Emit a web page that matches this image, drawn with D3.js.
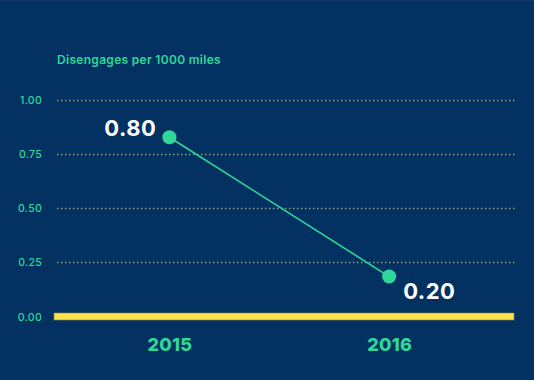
<!DOCTYPE html>
<html>
<head>
<meta charset="utf-8">
<script src="https://cdn.jsdelivr.net/npm/d3@7"></script>
<style>
  html, body { margin: 0; padding: 0; background: #033262; }
  svg { display: block; }
  text { font-family: Inter, "Open Sans", sans-serif; }
</style>
</head>
<body>
<script>
const years = ["2015", "2016"];
const values = [0.826, 0.184];
const valueLabels = ["0.80", "0.20"];
const yTicks = [0, 0.25, 0.5, 0.75, 1.0];
const title = "Disengages per 1000 miles";

const W = 534, H = 380;
const green = "#2ed89b";
const yellow = "#fde24b";
const FONT = "Inter, 'Open Sans', sans-serif";

const svg = d3.select("body").append("svg").attr("width", W).attr("height", H);
svg.append("rect").attr("width", W).attr("height", H).attr("fill", "#033262");
svg.append("rect").attr("width", W).attr("height", 1).attr("fill", "#15396b");

const y = d3.scaleLinear().domain([0, 1]).range([316.5, 99.5]);
const x = d3.scalePoint().domain(years).range([59.5, 499]).padding(0.5);

// title
svg.append("text").attr("x", 57).attr("y", 63.5)
  .attr("fill", green).attr("font-size", 12).attr("font-weight", 600)
  .attr("letter-spacing", 0.3)
  .text(title);

// y axis labels
const yAxis = d3.axisLeft(y).tickValues(yTicks).tickFormat(d3.format(".2f")).tickSize(0).tickPadding(0);
const gy = svg.append("g").attr("transform", "translate(42,0)").call(yAxis);
gy.select(".domain").remove();
gy.selectAll("text").attr("fill", green).attr("font-size", 10.5).attr("font-weight", 500)
  .attr("letter-spacing", 0.3)
  .attr("font-family", FONT).attr("dy", "0.35em");

// gridlines
svg.append("g").selectAll("line").data(yTicks.filter(d => d > 0)).join("line")
  .attr("x1", 57).attr("x2", 516)
  .attr("y1", d => Math.round(y(d)) + 0.5).attr("y2", d => Math.round(y(d)) + 0.5)
  .attr("stroke", "#d9c23a").attr("stroke-opacity", 0.8)
  .attr("stroke-width", 1.3).attr("stroke-dasharray", "1.4,2.6");

// baseline bar
svg.append("rect").attr("x", 54).attr("width", 460)
  .attr("y", y(0) - 3.5).attr("height", 7)
  .attr("fill", yellow).attr("stroke", "#8e8a3e").attr("stroke-width", 0.6);

// x labels
const xAxis = d3.axisBottom(x).tickSize(0).tickPadding(0);
const gx = svg.append("g").attr("transform", "translate(0,351)").call(xAxis);
gx.select(".domain").remove();
gx.selectAll("text").attr("fill", green).attr("font-size", 18).attr("font-weight", 800)
  .attr("letter-spacing", 0.3)
  .attr("font-family", FONT).attr("dy", 0);

// line
const pts = years.map((yr, i) => ({yr, v: values[i], lab: valueLabels[i]}));
svg.append("path").datum(pts)
  .attr("d", d3.line().x(d => x(d.yr)).y(d => y(d.v)))
  .attr("fill", "none").attr("stroke", green).attr("stroke-width", 1.6);

svg.selectAll("circle.pt").data(pts).join("circle")
  .attr("class", "pt").attr("cx", d => x(d.yr)).attr("cy", d => y(d.v))
  .attr("r", 7).attr("fill", green);

// value labels
svg.selectAll("text.val").data(pts).join("text")
  .attr("class", "val")
  .attr("x", (d, i) => i === 0 ? x(d.yr) - 13 : x(d.yr) + 14)
  .attr("y", (d, i) => i === 0 ? y(d.v) - 1.5 : y(d.v) + 22.5)
  .attr("text-anchor", (d, i) => i === 0 ? "end" : "start")
  .attr("fill", "#ffffff").attr("font-size", 22).attr("font-weight", 700)
  .attr("letter-spacing", 0.5)
  .text(d => d.lab);
</script>
</body>
</html>
